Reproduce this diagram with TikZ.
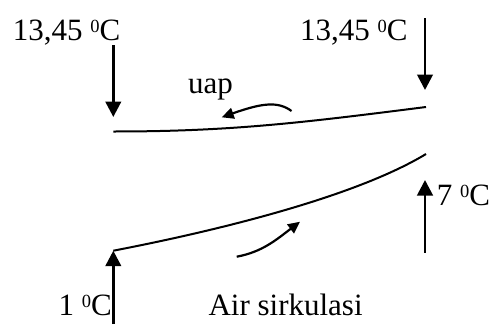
\documentclass[tikz,border=0pt]{standalone}
\usepackage{fontspec}
\setmainfont{Liberation Serif}
\usetikzlibrary{arrows.meta, positioning}
\newcommand{\degsup}{\raisebox{7.5pt}{\fontsize{18.5}{19}\selectfont 0}}

\begin{document}
\begin{tikzpicture}[x=1pt, y=-1pt,
  temp_lbl/.style={font=\fontsize{31}{33}\selectfont, inner sep=0pt, anchor=base west},
  flow_arr/.style={-{Triangle[width=15.5pt,length=15.5pt]}, line width=2.8pt},
  bend_arr/.style={-{Triangle[width=11pt,length=12pt]}, line width=2.2pt},
  pipe_line/.style={line width=2pt},
]
  \useasboundingbox (0,0) rectangle (494,324);
  % temperatures and labels
  \node[temp_lbl] (tinL) at (12.7,40) {13,45 \degsup C};
  \node[temp_lbl] (tinR) at (300,40) {13,45 \degsup C};
  \node[temp_lbl] (toutR) at (436.7,205) {7 \degsup C};
  \node[temp_lbl] (tinB) at (58.3,315) {1 \degsup C};
  \node[temp_lbl] (uap) at (188,93) {uap};
  \node[temp_lbl] (air) at (208.3,315) {Air sirkulasi};
  % arrow ends
  \coordinate (aL0) at (113.3,45);   \coordinate (aL1) at (113.3,117);
  \coordinate (aR0) at (425,18);     \coordinate (aR1) at (425,90);
  \coordinate (bR0) at (425,252.7);  \coordinate (bR1) at (425,180);
  \coordinate (bL0) at (113.3,324);  \coordinate (bL1) at (113.3,250.7);
  \coordinate (up0) at (113.3,131.5); \coordinate (up1) at (426,107);
  \coordinate (lo1) at (426,154);
  \coordinate (u0) at (291.5,111);   \coordinate (u1) at (221.7,117.3);
  \coordinate (c0) at (236.7,256.7); \coordinate (c1) at (300,221.7);
  % flows
  \foreach \s/\e in {aL0/aL1, aR0/aR1, bR0/bR1, bL0/bL1}
    \draw[flow_arr] (\s) -- (\e);
  \draw[pipe_line] (up0) .. controls (230,131.5) and (300,123) .. (up1);
  \draw[pipe_line] (bL1) .. controls (200,234) and (350,200) .. (lo1);
  \draw[bend_arr] (u0) .. controls (278,101) and (262,103) .. (u1);
  \draw[bend_arr] (c0) .. controls (262,252) and (276,240) .. (c1);
\end{tikzpicture}
\end{document}
